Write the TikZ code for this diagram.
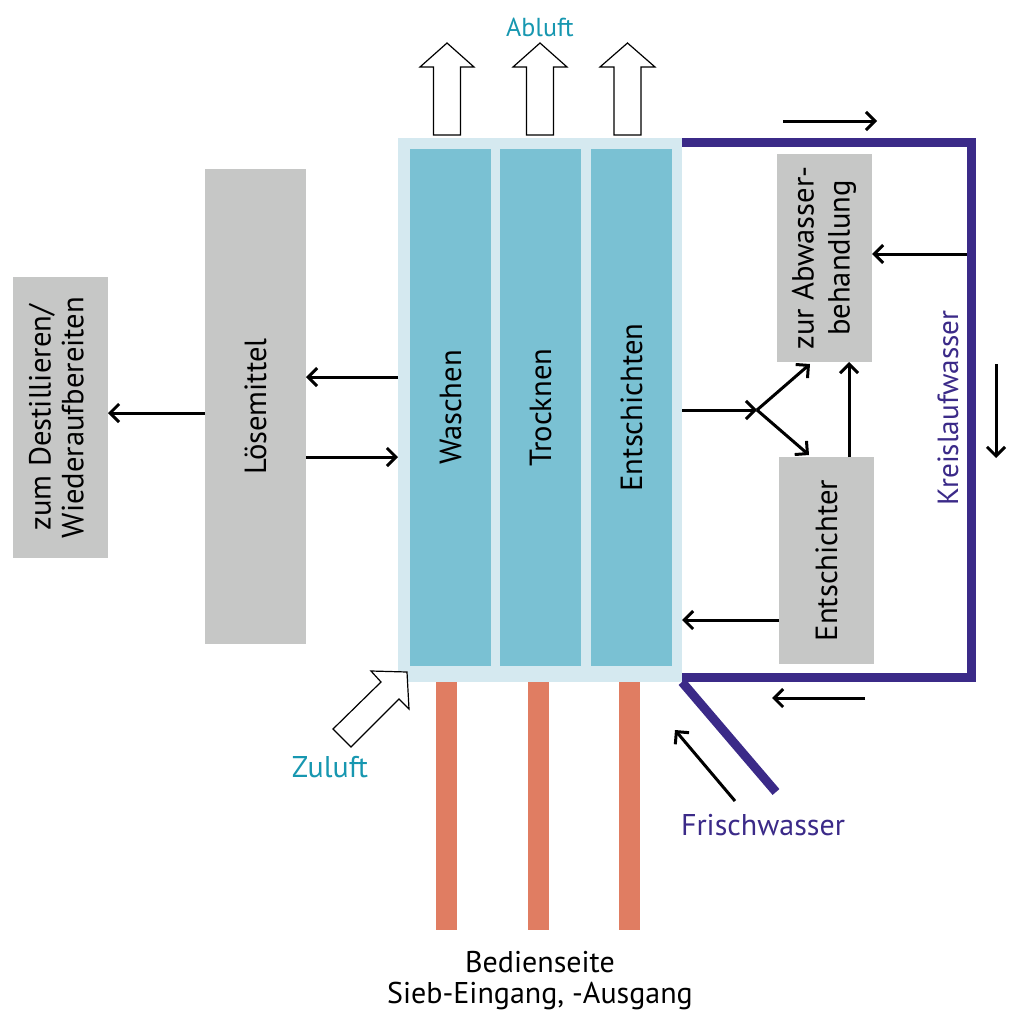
\documentclass[tikz,border=0pt]{standalone}
\usepackage{fontspec}
\setmainfont{PT Sans}
\usepackage{graphicx}
\usetikzlibrary{arrows.meta}
\definecolor{frameblue}{HTML}{D5E9F0}
\definecolor{colteal}{HTML}{7AC1D3}
\definecolor{boxgrey}{HTML}{C6C7C6}
\definecolor{barorange}{HTML}{E07D62}
\definecolor{loopblue}{HTML}{3B2A88}
\definecolor{airteal}{HTML}{1797B0}
\begin{document}
\begin{tikzpicture}[x=0.5pt,y=-0.5pt,
  plain/.style={draw=none, inner sep=0pt, outer sep=0pt},
  greybox/.style={plain, fill=boxgrey, minimum width=47.5pt, font=\fontsize{15.3}{16.3}\selectfont},
  column/.style={plain, fill=colteal, minimum width=40.5pt, minimum height=258.5pt, font=\fontsize{15.3}{16.5}\selectfont},
  bar/.style={plain, fill=barorange, minimum width=10.5pt, minimum height=124pt},
  arr/.style={line width=1.5pt, -{Straight Barb[length=4.5pt,width=9pt,line width=1.5pt]}},
  loopline/.style={draw=loopblue, line width=4.5pt},
  blockarrow/.style={draw=black, line width=0.6pt, fill=white, line join=miter},
  lbl/.style={inner sep=0pt, font=\fontsize{15}{17}\selectfont}
]
\path[use as bounding box] (0,0) rectangle (1008,1012);

% main frame and columns
\node[plain, fill=frameblue, minimum width=142pt, minimum height=272pt] (frame) at (540,410) {};
\node[column] (wasch) at (450.5,407.5) {\rotatebox{90}{Waschen}};
\node[column] (trock) at (540.5,407.5) {\rotatebox{90}{Trocknen}};
\node[column] (entsch) at (631.5,407.5) {\rotatebox{90}{Entschichten}};

% orange bars
\node[bar] (bar1) at (446.5,806) {};
\node[bar] (bar2) at (538.5,806) {};
\node[bar] (bar3) at (629.5,806) {};

% grey boxes
\node[greybox, minimum width=50.5pt, minimum height=237.5pt] (loes) at (255.5,406.5) {\rotatebox{90}{Lösemittel}};
\node[greybox, minimum height=140.5pt] (dest) at (60.5,417.5) {\rotatebox{90}{\begin{tabular}{@{}c@{}}zum Destillieren/\\Wiederaufbereiten\end{tabular}}};
\node[greybox, minimum height=104pt, font=\fontsize{15.3}{18}\selectfont] (abw) at (824.5,258) {\rotatebox{90}{\begin{tabular}{@{}c@{}}zur Abwasser-\\behandlung\end{tabular}}};
\node[greybox, minimum height=103.5pt] (entsr) at (826.5,560.5) {\rotatebox{90}{Entschichter}};

% loop line
\coordinate (ltop) at (971,142);
\coordinate (lbot) at (971,677);
\coordinate (fwend) at (776,792);
\draw[loopline, line join=miter] (frame.east |- ltop) -- (ltop) -- (lbot) -- (frame.east |- lbot);
\draw[loopline] (frame.south east) -- (fwend);

% connectors left
\draw[arr] (frame.west |- 0,377) -- (loes.east |- 0,377);
\draw[arr] (loes.east |- 0,457) -- (frame.west |- 0,457);
\draw[arr] (loes.west |- 0,413) -- (dest.east |- 0,413);

% connectors right
\coordinate (split) at (757,410);
\draw[arr] (frame.east |- split) -- (split);
\draw[arr] (split) -- (810,364);
\draw[arr] (split) -- (809,455);
\draw[arr] (entsr.north -| 849,0) -- (abw.south -| 849,0);
\draw[arr] (967,254) -- (abw.east |- 0,254);
\draw[arr] (entsr.west |- 0,620) -- (frame.east |- 0,620);

% free flow arrows
\coordinate (ta1) at (783,121); \coordinate (ta2) at (877,121);
\draw[arr] (ta1) -- (ta2);
\coordinate (ra1) at (996,364); \coordinate (ra2) at (996,458);
\draw[arr] (ra1) -- (ra2);
\coordinate (ba1) at (865,698); \coordinate (ba2) at (772,698);
\draw[arr] (ba1) -- (ba2);
\coordinate (fa1) at (735,801); \coordinate (fa2) at (675,730);
\draw[arr] (fa1) -- (fa2);

% Abluft block arrows
\foreach \cx/\hw in {447/27, 540/27, 627.5/27.5} {
  \draw[blockarrow] (\cx,43) -- (\cx+\hw,67) -- (\cx+13.5,67) -- (\cx+13.5,135)
     -- (\cx-13.5,135) -- (\cx-13.5,67) -- (\cx-\hw,67) -- cycle;
}
% Zuluft block arrow
\draw[blockarrow] (407,672) -- (371,671) -- (381,682) -- (333,729) -- (351,747)
   -- (399,699) -- (409,709) -- cycle;

% labels
\node[lbl, text=airteal, font=\fontsize{13}{15}\selectfont] (abluft) at (540,27) {Abluft};
\node[lbl, text=airteal] (zuluft) at (330,767) {Zuluft};
\node[lbl, text=loopblue] (frisch) at (763,825) {Frischwasser};
\node[lbl, text=loopblue, rotate=90, font=\fontsize{14.6}{17}\selectfont] (kreis) at (948,408) {Kreislaufwasser};
\node[lbl] (bed) at (540,962) {Bedienseite};
\node[lbl] (sieb) at (540,996) {Sieb-Eingang, -Ausgang};
\end{tikzpicture}
\end{document}
